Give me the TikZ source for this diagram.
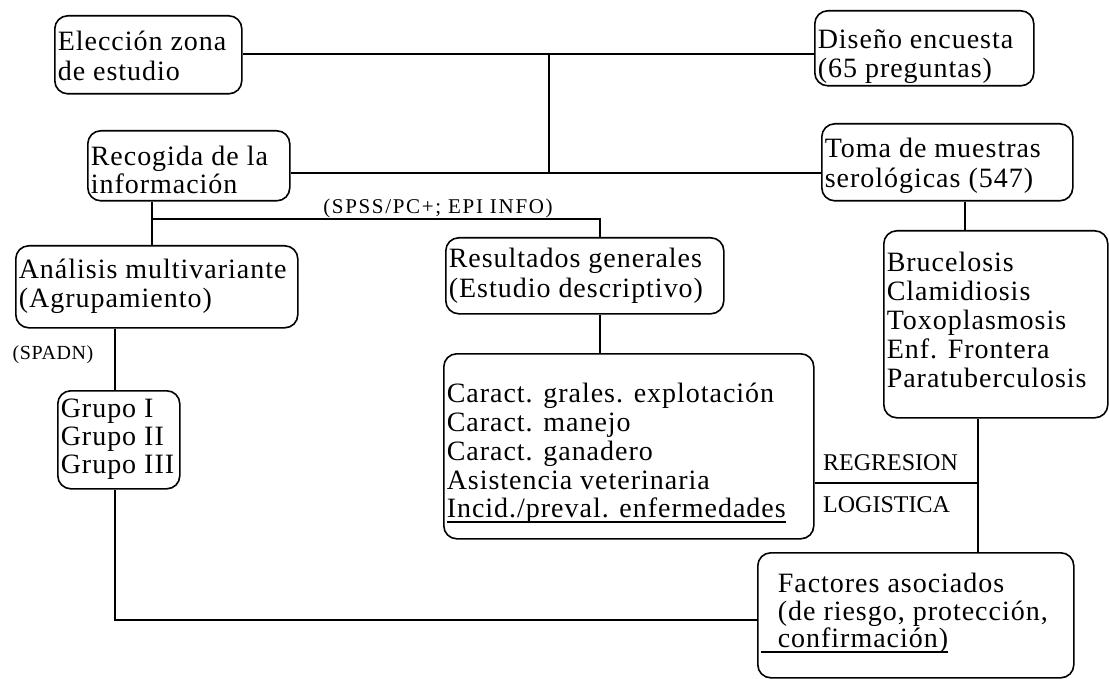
\documentclass[tikz,border=0pt]{standalone}
\usepackage{fontspec}
\setmainfont{Liberation Serif}[LetterSpace=3.5]
\newfontfamily\spssfont{Liberation Serif}[LetterSpace=8]
\newfontfamily\spadnfont{Liberation Serif}[LetterSpace=3]
\newfontfamily\regfont{Liberation Serif}
\newcommand\bxt[5]{\parbox[c][#2pt][t]{#1pt}{\fontsize{28}{#4pt}\selectfont\raggedright\leftskip=3pt\relax\rule{0pt}{#3pt}#5}}
\newcommand\ulx[1]{\leavevmode\setbox0\hbox{#1}\rlap{\rule[-5pt]{\wd0}{1.4pt}}#1}
\begin{document}
\begin{tikzpicture}[x=1pt,y=-1pt,
  box/.style={draw, line width=1.6pt, rounded corners=13pt, inner sep=0pt, anchor=north west},
  ln/.style={line width=1.6pt},
  lab/.style={inner sep=0pt}]
\useasboundingbox (0,0) rectangle (1109,679);
\node[box] (elec) at (54,15) {\bxt{187}{78}{35}{30}{Elección zona\\de estudio}};
\node[box] (dis) at (814,10) {\bxt{219}{75}{38}{29}{Diseño encuesta\\(65 preguntas)}};
\node[box] (rec) at (87,130) {\bxt{202}{70}{35}{28}{Recogida de la\\información}};
\node[box] (toma) at (821,123) {\bxt{251}{77}{34}{30}{Toma de muestras\\serológicas (547)}};
\node[box] (ana) at (15,245) {\bxt{282}{82}{33}{29}{Análisis multivariante\\(Agrupamiento)}};
\node[box] (res) at (445,237) {\bxt{278}{76}{30}{30}{Resultados generales\\(Estudio descriptivo)}};
\node[box] (bru) at (883,230) {\bxt{224}{187}{41}{29}{Brucelosis\\Clamidiosis\\Toxoplasmosis\\Enf. Frontera\\Paratuberculosis}};
\node[box] (grp) at (57,390) {\bxt{122}{98}{27}{28}{Grupo I\\Grupo II\\Grupo III}};
\node[box] (car) at (443,353) {\bxt{370}{185}{49}{28.75}{Caract. grales. explotación\\Caract. manejo\\Caract. ganadero\\Asistencia veterinaria\\\ulx{Incid./preval. enfermedades}}};
\node[box] (fac) at (757,552) {\bxt{316}{125}{40}{27.5}{\hspace*{17pt}Factores asociados\\\hspace*{17pt}(de riesgo, protección,\\\ulx{\hspace*{17pt}confirmación)}}};
\coordinate (j1) at (549,54);
\coordinate (j2) at (549,173);
\draw[ln] (elec.east |- j1) -- (dis.west |- j1);
\draw[ln] (j1) -- (j2);
\draw[ln] (rec.east |- j2) -- (toma.west |- j2);
\coordinate (k1) at (152,219);
\coordinate (k2) at (600,219);
\draw[ln] (rec.south -| k1) -- (ana.north -| k1);
\draw[ln] (k1) -- (k2) -- (res.north -| k2);
\node[lab, font=\spssfont\fontsize{21}{24}\selectfont] (spss) at (438,208) {(SPSS/PC+; EPI INFO)};
\coordinate (k3) at (965,215);
\draw[ln] (toma.south -| k3) -- (bru.north -| k3);
\coordinate (k6) at (115,360);
\draw[ln] (ana.south -| k6) -- (grp.north -| k6);
\node[lab, font=\spadnfont\fontsize{20}{24}\selectfont] (spadn) at (53,355) {(SPADN)};
\draw[ln] (res.south -| k2) -- (car.north -| k2);
\coordinate (k4) at (978,483);
\draw[ln] (bru.south -| k4) -- (fac.north -| k4);
\draw[ln] (car.east |- k4) -- (k4);
\node[lab, anchor=west, font=\regfont\fontsize{24}{26}\selectfont] (reg) at (823,463) {REGRESION};
\node[lab, anchor=west, font=\regfont\fontsize{24}{26}\selectfont] (log) at (823,505) {LOGISTICA};
\coordinate (k5) at (115,620);
\draw[ln] (grp.south -| k5) -- (k5) -- (fac.west |- k5);
\end{tikzpicture}
\end{document}
